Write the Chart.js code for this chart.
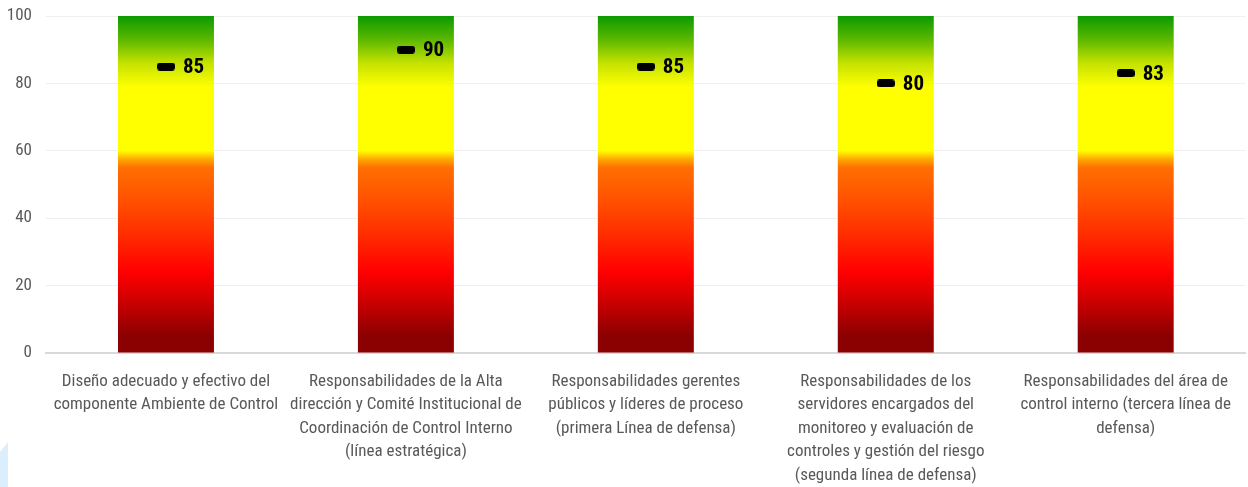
<!DOCTYPE html>
<html lang="es">
<head>
<meta charset="utf-8">
<title>Ambiente de Control</title>
<script src="https://cdn.jsdelivr.net/npm/chart.js@4/dist/chart.umd.min.js"></script>
<style>
  html, body { margin: 0; padding: 0; background: #ffffff; }
  #wrap { position: relative; width: 1248px; height: 487px; overflow: hidden; }
  #chart { position: absolute; left: 0; top: 0; }
  .corner { position: absolute; left: 0; top: 442px; width: 8px; height: 45px;
            background: #dceefb; clip-path: polygon(0 10px, 8px 0, 8px 45px, 0 45px); }
</style>
</head>
<body>
<div id="wrap">
  <canvas id="chart" width="1248" height="487"></canvas>
  <div class="corner"></div>
</div>
<script>
// Components evaluated (each label split into its printed lines)
const categories = [
  ["Diseño adecuado y efectivo del", "componente Ambiente de Control"],
  ["Responsabilidades de la Alta", "dirección y Comité Institucional de", "Coordinación de Control Interno", "(línea estratégica)"],
  ["Responsabilidades gerentes", "públicos y líderes de proceso", "(primera Línea de defensa)"],
  ["Responsabilidades de los", "servidores encargados del", "monitoreo y evaluación de", "controles y gestión del riesgo", "(segunda línea de defensa)"],
  ["Responsabilidades del área de", "control interno (tercera línea de", "defensa)"]
];

// Score obtained by each component
const scores = [85, 90, 85, 80, 83];

// Full scale band behind each score (0 to 100)
const bandTop = [100, 100, 100, 100, 100];

// Value axis
const axisMin = 0;
const axisMax = 100;
const axisStep = 20;

const narrow = "'Roboto Condensed', 'Liberation Sans', sans-serif";

// Colour scale of the band: dark red at the bottom, through red, orange and yellow, to green at the top
function bandGradient(context) {
  const area = context.chart.chartArea;
  if (!area) return '#ff0000';
  const g = context.chart.ctx.createLinearGradient(0, area.bottom, 0, area.top);
  g.addColorStop(0.00, '#8b0000');
  g.addColorStop(0.05, '#8b0000');
  g.addColorStop(0.16, '#d00000');
  g.addColorStop(0.24, '#ff0000');
  g.addColorStop(0.36, '#ff3000');
  g.addColorStop(0.45, '#ff5000');
  g.addColorStop(0.55, '#ff7000');
  g.addColorStop(0.575, '#ffa800');
  g.addColorStop(0.60, '#ffff00');
  g.addColorStop(0.79, '#ffff00');
  g.addColorStop(0.86, '#c4e200');
  g.addColorStop(0.93, '#5cb800');
  g.addColorStop(1.00, '#0c9a00');
  return g;
}

// Short rounded dash used as the score marker
function makeDash(w, h, r) {
  const c = document.createElement('canvas');
  c.width = w; c.height = h;
  const x = c.getContext('2d');
  x.fillStyle = '#000000';
  x.beginPath();
  x.moveTo(r, 0);
  x.lineTo(w - r, 0);
  x.arcTo(w, 0, w, r, r);
  x.lineTo(w, h - r);
  x.arcTo(w, h, w - r, h, r);
  x.lineTo(r, h);
  x.arcTo(0, h, 0, h - r, r);
  x.lineTo(0, r);
  x.arcTo(0, 0, r, 0, r);
  x.closePath();
  x.fill();
  return c;
}
const dash = makeDash(18, 8, 3);

// Writes each score to the right of its marker
const scoreLabels = {
  id: 'scoreLabels',
  afterDatasetsDraw(chart) {
    const meta = chart.getDatasetMeta(0);
    const ctx = chart.ctx;
    ctx.save();
    ctx.font = 'bold 21px ' + narrow;
    ctx.fillStyle = '#000000';
    ctx.textAlign = 'left';
    ctx.textBaseline = 'middle';
    meta.data.forEach((pt, i) => {
      ctx.fillText(String(scores[i]), pt.x + 17, pt.y + 1);
    });
    ctx.restore();
  }
};

new Chart(document.getElementById('chart'), {
  data: {
    labels: categories,
    datasets: [
      {
        type: 'line',
        label: 'Puntaje',
        data: scores,
        showLine: false,
        pointStyle: dash,
        pointRadius: 9,
        pointHoverRadius: 9,
        pointBorderWidth: 0,
        order: 0
      },
      {
        type: 'bar',
        label: 'Escala',
        data: bandTop,
        backgroundColor: bandGradient,
        borderWidth: 0,
        categoryPercentage: 0.8,
        barPercentage: 0.5,
        order: 1
      }
    ]
  },
  options: {
    responsive: false,
    devicePixelRatio: 1,
    animation: false,
    layout: { autoPadding: false, padding: { top: 16, right: 0, left: 0, bottom: 0 } },
    plugins: {
      legend: { display: false },
      tooltip: { enabled: false }
    },
    scales: {
      x: {
        grid: { display: false, drawTicks: false },
        border: { display: true, color: '#d9d9d9', width: 2 },
        ticks: {
          color: '#595959',
          font: { family: narrow, size: 17, lineHeight: 1.38 },
          padding: 17,
          maxRotation: 0,
          autoSkip: false
        },
        afterFit(scale) { scale.height = 134; }
      },
      y: {
        min: axisMin,
        max: axisMax,
        grid: { color: '#efefef', lineWidth: 1, drawTicks: false },
        border: { display: false },
        ticks: {
          stepSize: axisStep,
          color: '#595959',
          font: { family: narrow, size: 17 },
          padding: 14
        },
        afterFit(scale) {
          scale.width = 46;
          scale.paddingTop = 0;
          scale.paddingBottom = 0;
        }
      }
    }
  },
  plugins: [scoreLabels]
});
</script>
</body>
</html>
